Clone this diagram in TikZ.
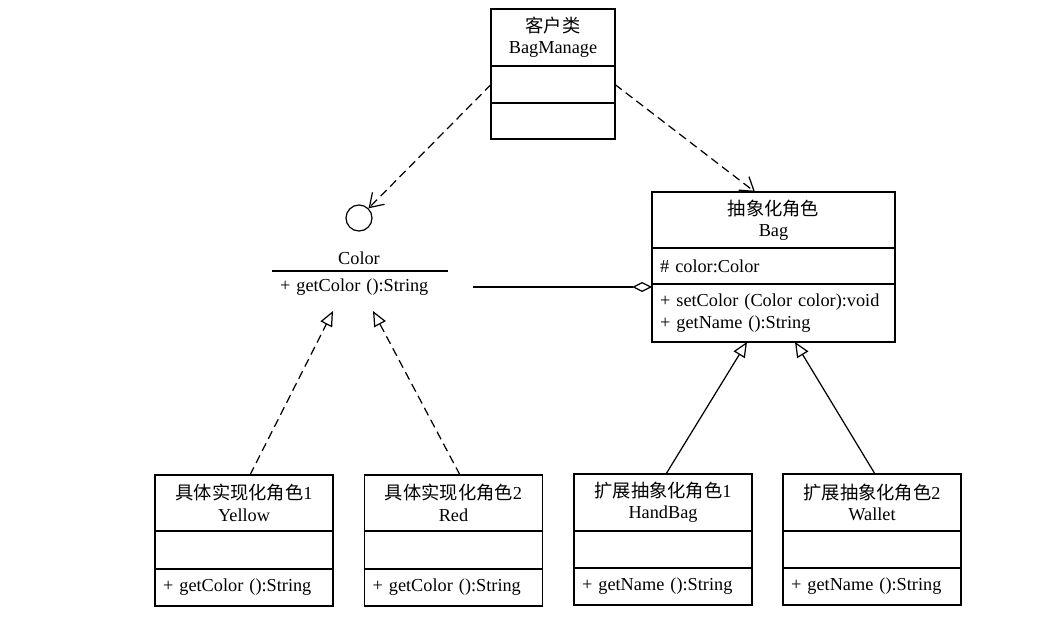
\documentclass[tikz,border=0pt]{standalone}
\usepackage{fontspec}
\setmainfont{Liberation Serif}
\newfontfamily\cjk{Noto Sans CJK SC}
\usepackage{tikz}
\usetikzlibrary{arrows.meta,positioning}
\tikzset{
  compart/.style={draw, line width=0.7pt, outer sep=0pt, inner xsep=0.16cm, inner ysep=0pt,
    text width=#1, font=\fontsize{10.4}{12.2}\selectfont},
  head/.style={compart=#1, align=center},
  body/.style={compart=#1, align=left},
  realize/.style={line width=0.7pt, dash pattern=on 0.17cm off 0.1cm, -{Triangle[open,length=0.3cm,width=0.26cm]}},
  extend/.style={line width=0.7pt, -{Triangle[open,length=0.3cm,width=0.26cm]}},
  depend/.style={line width=0.7pt, dash pattern=on 0.17cm off 0.1cm, -{Straight Barb[length=0.26cm,width=0.34cm]}},
  aggreg/.style={line width=0.7pt, -{Diamond[open,length=0.4cm,width=0.2cm]}},
}
\begin{document}
\begin{tikzpicture}[x=0.02cm, y=-0.02cm]
  \useasboundingbox (0,0) rectangle (1050,616);
  % client
  \node[head=2.16cm, minimum height=1.14cm, anchor=north] (bm) at (553,9) {{\cjk 客户类}\\BagManage};
  \node[body=2.16cm, minimum height=0.74cm, below=0pt of bm] (bmattr) {};
  \node[body=2.16cm, minimum height=0.72cm, below=0pt of bmattr] (bmops) {};
  % implementor interface
  \node[draw, circle, line width=0.7pt, minimum size=0.52cm] (ifc) at (359,218) {};
  \node[font=\fontsize{10.4}{12.2}\selectfont] (colorname) at (359,258) {Color};
  \node[body=3.2cm, draw=none, minimum height=0.64cm, anchor=north] (colorops) at (360,271) {+ getColor ():String};
  \draw[line width=0.7pt] (colorops.north west) -- (colorops.north east);
  % abstraction
  \node[head=4.54cm, minimum height=1.12cm, anchor=north] (bag) at (773.5,192) {{\cjk 抽象化角色}\\Bag};
  \node[body=4.54cm, minimum height=0.72cm, below=0pt of bag] (bagattr) {\# color:Color};
  \node[body=4.54cm, minimum height=1.16cm, below=0pt of bagattr] (bagops) {+ setColor (Color color):void\\+ getName ():String};
  % concrete implementors
  \node[head=3.24cm, minimum height=1.12cm, anchor=north] (yellow) at (244,475) {{\cjk 具体实现化角色}1\\Yellow};
  \node[body=3.24cm, minimum height=0.76cm, below=0pt of yellow] (yellowattr) {};
  \node[body=3.24cm, minimum height=0.74cm, below=0pt of yellowattr] (yellowops) {+ getColor ():String};
  \node[head=3.24cm, minimum height=1.12cm, anchor=north] (red) at (453.5,475) {{\cjk 具体实现化角色}2\\Red};
  \node[body=3.24cm, minimum height=0.76cm, below=0pt of red] (redattr) {};
  \node[body=3.24cm, minimum height=0.74cm, below=0pt of redattr] (redops) {+ getColor ():String};
  % refined abstractions
  \node[head=3.24cm, minimum height=1.14cm, anchor=north] (handbag) at (663,474) {{\cjk 扩展抽象化角色}1\\HandBag};
  \node[body=3.24cm, minimum height=0.74cm, below=0pt of handbag] (handbagattr) {};
  \node[body=3.24cm, minimum height=0.74cm, below=0pt of handbagattr] (handbagops) {+ getName ():String};
  \node[head=3.24cm, minimum height=1.14cm, anchor=north] (wallet) at (872,474) {{\cjk 扩展抽象化角色}2\\Wallet};
  \node[body=3.24cm, minimum height=0.74cm, below=0pt of wallet] (walletattr) {};
  \node[body=3.24cm, minimum height=0.74cm, below=0pt of walletattr] (walletops) {+ getName ():String};
  % relations
  \draw[depend] (bmattr.west) -- (ifc);
  \draw[depend] (bmattr.east) -- ([xshift=-0.37cm]bag.north);
  \draw[aggreg] ([xshift=0.5cm]colorops.east) -- (colorops.east -| bagattr.west);
  \draw[realize] ([xshift=0.12cm]yellow.north) -- ([xshift=-0.54cm,yshift=-0.16cm]colorops.south);
  \draw[realize] ([xshift=0.13cm]red.north) -- ([xshift=0.26cm,yshift=-0.16cm]colorops.south);
  \draw[extend] ([xshift=0.06cm]handbag.north) -- ([xshift=-0.53cm]bagops.south);
  \draw[extend] ([xshift=0.06cm]wallet.north) -- ([xshift=0.43cm]bagops.south);
\end{tikzpicture}
\end{document}
